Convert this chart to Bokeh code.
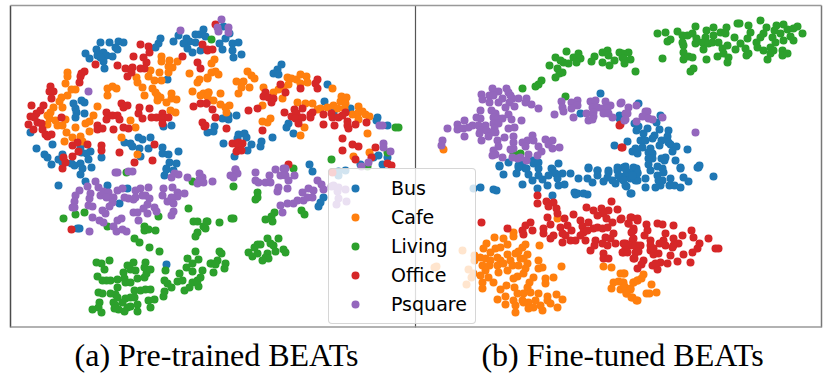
from bokeh.plotting import figure
from bokeh.models import Legend, LegendItem, Label, Range1d
from bokeh.embed import file_html
from bokeh.resources import INLINE

bus_a = [(100,42),(109,42),(118,41),(123,42),(115,47),(117,49),(96,49),(85,53),(89,58),(97,55),(103,52),(106,55),(103,61),(112,56),(104,68),(100,57),(160,38),(158,43),(155,47),(173,41),(178,35),(195,34),(199,34),(203,29),(205,36),(186,38),(189,41),(183,43),(187,48),(192,52),(200,50),(195,42),
(167,79),(81,100),(84,102),(73,103),(75,108),(76,112),(84,113),(75,117),(163,126),(171,125),(30,132),(36,148),(52,144),(44,154),(47,157),(51,164),(58,159),(62,154),(62,162),(71,163),(74,165),(80,163),(82,168),(81,152),(80,147),(86,153),(90,151),(88,159),(91,167),(101,157),(124,142),(130,143),(138,137),(142,139),(132,146),(139,148),(140,156),(150,137),(148,148),(162,147),(162,153),(168,154),(178,151),(169,162),(176,163),(166,168),
(223,26),(225,38),(229,33),(219,43),(222,49),(232,43),(238,42),(232,50),(233,57),(241,54),(281,64),(277,69),(273,73),(278,74),(327,84),(324,101),(350,108),(333,112),(377,117),(376,120),(387,125),(222,118),(228,119),(228,115),(236,115),(288,123),(286,127),(293,133),(272,137),(214,126),(213,131),(207,132),(223,143),(238,134),(244,133),(246,137),(237,138),(251,144),(247,150),(234,156),(261,141),(260,146),(309,164),(360,164),(378,155),(373,157),(387,157),(382,164),
(80,174),(85,181),(58,185),(107,185),(166,169),(173,170),(164,175),(127,188),(119,203),(79,228),(77,228),(166,264),(323,197),(320,202),(318,206),(312,171),(338,175),(345,170),(338,171)]
cafe_a = [(67,72),(67,76),(65,83),(75,89),(71,89),(67,95),(61,97),(59,101),(62,107),(53,107),(50,112),(47,115),(49,118),(55,120),(65,119),(57,125),(62,125),(47,124),(97,106),(93,115),(89,121),(85,123),(75,127),(66,132),(72,137),(80,136),(82,141),(64,141),(89,131),(107,88),(112,86),(116,88),(107,95),(130,120),(135,127),(121,137),(137,154),(136,77),(137,82),(150,70),(148,76),(142,87),(144,95),(159,72),(154,80),(161,80),(161,56),(161,61),(169,60),(177,61),(168,66),(172,67),(168,72),(152,88),(155,92),(157,95),(160,97),(157,100),(166,102),(171,93),(171,98),(176,99),(170,110),(175,112),(189,73),(192,91),(199,79),(197,82),(200,95),(207,77),(203,93),(208,92),
(214,59),(211,63),(215,71),(211,72),(218,74),(207,78),(247,71),(251,75),(254,78),(236,81),(243,81),(241,87),(249,87),(238,93),(220,93),(208,92),(207,96),(213,100),(220,104),(225,107),(229,105),(226,112),(263,87),(287,77),(291,78),(296,79),(300,74),(306,76),(307,82),(300,83),(288,84),(283,87),(278,89),(273,92),(282,98),(297,102),(305,103),(312,103),(262,105),(317,109),(320,108),(327,107),(333,105),(337,108),(340,101),(341,96),(346,97),(345,103),(344,108),(332,88),(352,114),(358,106),(358,112),(362,111),(365,114),(369,116),(358,119),(367,133),(262,121),(267,122),(270,118),(304,127),(300,135),(369,152),(353,156)]
living_a = [(211,39),(331,159),(367,166),(387,152),(395,127),(398,127),(293,168),(126,172),(192,181),(188,208),(63,218),(75,214),(84,212),(158,216),(107,226),(144,226),(144,230),(148,229),(155,230),(134,238),(139,242),(149,247),(159,251),(193,221),(197,221),(206,221),(203,226),(205,228),(197,232),(195,236),
(96,262),(101,263),(109,260),(104,269),(97,276),(102,280),(106,280),(110,280),(117,279),(127,265),(133,262),(130,269),(135,270),(123,272),(124,278),(125,282),(130,282),(137,278),(144,277),(146,273),(145,262),(144,267),(150,269),(117,287),(98,292),(102,293),(110,293),(115,294),(117,297),(134,290),(140,290),(145,289),(150,289),(134,297),(130,297),(125,298),(122,302),(113,302),(115,305),(127,307),(130,306),(137,304),(137,311),(124,311),(118,309),(114,308),(99,302),(98,307),(92,309),(101,312),(148,300),(154,299),(150,307),(163,296),(164,291),(165,270),(164,280),(167,283),(171,287),(179,273),(177,281),(182,280),(184,290),(189,287),(192,282),(198,286),(197,280),(200,277),(202,270),(192,271),(186,267),(192,263),(187,258),(198,259),(195,251),(210,263),
(233,186),(257,192),(257,197),(255,199),(301,210),(304,214),(274,212),(271,216),(265,219),(272,221),(231,218),(233,218),(219,222),(207,221),(219,251),(221,253),(267,238),(278,238),(270,243),(273,245),(257,244),(260,244),(254,247),(248,252),(252,256),(257,253),(275,251),(283,249),(285,252),(267,253),(265,257),(268,258),(262,260),(217,260),(211,263),(215,264),(225,263),(224,268),(213,272)]
office_a = [(31,105),(43,105),(40,110),(36,113),(30,116),(34,117),(37,122),(28,124),(41,123),(33,129),(42,129),(45,134),(51,134),(47,136),(50,86),(49,91),(53,91),(51,98),(61,117),(79,82),(80,76),(84,71),(81,73),(95,64),(117,65),(125,68),(132,67),(131,72),(127,76),(133,56),(140,44),(148,46),(149,52),(143,57),(146,62),(140,68),(144,68),(182,56),(121,103),(123,107),(127,105),(139,107),(138,113),(142,118),(149,108),(151,117),(156,117),(162,113),(162,118),(168,117),(162,123),(106,112),(112,115),(117,115),(106,119),(119,119),(97,125),(97,129),(102,128),(113,129),(123,127),(128,128),(72,145),(77,142),(87,144),(101,145),(101,150),(78,151),(119,152),(72,156),(154,144),(152,160),(134,162),(63,157),(65,162),(62,168),(197,62),(200,68),(193,106),(200,103),(206,103),(202,122),(204,126),(202,44),(207,50),
(215,24),(207,49),(212,49),(248,110),(257,108),(226,128),(215,117),(212,109),(206,103),(265,92),(263,96),(268,97),(273,98),(271,102),(280,84),(285,92),(300,88),(317,79),(315,83),(317,88),(284,112),(294,109),(302,108),(291,116),(296,113),(295,118),(302,117),(298,123),(310,114),(312,112),(310,117),(323,114),(331,113),(332,117),(338,117),(345,112),(342,115),(347,121),(347,125),(348,128),(355,124),(366,122),(323,124),(334,125),(262,130),(342,138),(342,150),(352,144),(358,146),(375,147),(371,157),(355,159),(387,163),(391,165),(232,143),(238,142),(242,143),(238,147),(236,151),(241,150),(288,164),(205,125),(71,229),(332,172)]
psquare_a = [(88,91),(180,30),(221,19),(217,27),(218,31),(228,27),(228,32),(379,125),(382,125),(383,143),(383,147),(390,151),(361,166),(368,162),(235,169),(275,169),(283,168),
(115,172),(117,172),(128,171),(132,171),(95,181),(87,186),(98,187),(79,190),(75,195),(74,201),(72,207),(74,207),(90,193),(89,198),(88,205),(92,206),(100,195),(103,191),(108,192),(106,197),(113,197),(112,202),(109,206),(117,190),(122,188),(124,197),(128,198),(135,190),(135,197),(140,188),(148,187),(145,195),(149,198),(142,195),(133,199),(102,210),(105,213),(92,217),(99,220),(103,222),(117,220),(121,218),(113,226),(116,231),(122,229),(126,231),(89,231),(137,212),(133,212),(143,208),(147,204),(147,213),(138,220),(154,207),(156,211),(163,188),(162,195),(172,187),(177,192),(177,196),(184,193),(171,197),(167,201),(173,203),(173,211),(171,215),(171,177),(178,174),(174,173),(187,177),(199,173),(202,177),(197,183),(203,182),(199,179),
(235,169),(230,175),(237,173),(233,177),(212,181),(255,172),(255,180),(258,182),(265,182),(270,182),(269,175),(285,168),(280,175),(285,175),(294,175),(288,180),(287,188),(278,187),(277,191),(302,192),(308,188),(313,190),(317,180),(321,184),(323,189),(307,197),(312,197),(303,200),(297,200),(293,203),(287,203),(280,205),(282,212),(331,186),(337,191),(338,187),(345,189),(338,198),(346,201),(336,204),(333,185)]

bus_b = [(600,93),(580,113),(619,115),(619,118),(614,145),(499,165),(508,162),(518,165),(522,162),(532,160),(533,163),(538,162),(558,163),(525,168),(538,168),(551,168),(588,167),(597,170),(617,167),(608,170),(624,167),
(638,103),(660,115),(634,123),(638,126),(647,128),(656,122),(659,129),(668,130),(667,136),(636,130),(643,133),(654,135),(652,138),(640,140),(645,140),(661,140),(668,142),(670,144),(676,146),(659,145),(642,147),(635,148),(650,148),(627,141),(632,151),(637,153),(648,152),(652,153),(672,151),(687,149),(652,158),(648,158),(665,157),(661,158),(675,160),(664,160),(648,164),(625,166),(633,167),(657,166),(680,167),(699,165),(697,167),(662,168),(621,117),(636,168),
(499,166),(503,174),(516,173),(518,167),(526,168),(528,174),(532,180),(522,184),(538,175),(542,179),(537,188),(552,169),(555,173),(548,175),(562,173),(570,173),(557,178),(547,185),(558,185),(564,184),(552,195),(574,192),(577,193),(583,193),(587,194),(578,178),(587,178),(592,182),(588,168),(597,170),(603,181),(608,172),(612,180),(617,170),(615,183),(620,178),(623,167),(625,175),(630,178),(633,170),(625,185),(637,180),(630,193),(480,187),(493,189),(496,190),(575,194),(597,175),(607,177),(618,175),(628,172),(637,172),(473,188),
(625,168),(623,180),(626,186),(635,180),(631,193),(637,173),(645,178),(645,187),(650,170),(657,175),(662,180),(660,185),(655,187),(663,172),(670,178),(669,185),(674,185),(680,187),(680,168),(683,177),(688,181),(698,167),(713,176),(658,180),(632,175)]
cafe_b = [(443,149),(557,218),(494,237),(503,238),(513,232),(513,236),(486,243),(483,248),(490,252),(495,248),(500,247),(507,244),(525,244),(522,247),(515,253),(518,251),(539,245),(507,254),(527,254),(480,257),(485,258),(490,260),(497,257),(500,260),(510,260),(520,258),(523,258),(527,263),(538,260),(542,267),(538,268),(561,266),(482,265),(489,265),(485,270),(497,265),(503,263),(512,265),(518,265),(525,268),(480,275),(498,272),(507,270),(488,277),(517,276),(513,278),(533,277),(523,273),(482,282),(482,288),(493,282),(506,285),(500,289),(514,287),(529,282),(527,287),(545,278),(553,277),(545,283),(517,293),(523,293),(530,292),(538,293),(547,296),(556,294),(497,299),(505,296),(513,300),(505,304),(522,300),(515,305),(528,302),(528,308),(535,300),(540,305),(542,310),(550,303),(547,300),(557,307),(562,299),(515,312),(523,302),(533,307),
(603,266),(611,267),(620,273),(624,273),(618,281),(623,282),(613,282),(611,288),(620,289),(633,282),(637,280),(630,288),(626,293),(632,297),(637,300),(623,273),(622,282),(624,286),(633,282),(637,280),(641,278),(643,274),(630,289),(626,293),(631,297),(636,300),(651,284),(646,293),(649,293),(656,292),
(462,250),(474,255),(474,260),(468,269),(473,273),(471,277),(466,284),(434,267),(436,266)]
living_b = [(566,51),(555,57),(549,65),(560,60),(563,62),(568,63),(573,57),(578,53),(580,58),(576,62),(557,68),(562,72),(559,73),(555,77),(541,80),(538,84),(535,86),(522,88),(565,96),(594,56),(591,61),(602,52),(607,50),(608,55),(602,62),(609,65),(614,60),(619,52),(622,57),(513,153),(520,153),
(657,33),(665,32),(667,41),(670,39),(677,31),(682,35),(682,42),(683,45),(687,35),(695,26),(692,33),(696,38),(695,43),(683,52),(683,59),(688,56),(692,57),(662,58),(706,59),(690,71),(693,68),(706,30),(705,37),(702,42),(703,49),(708,43),(713,27),(713,35),(712,42),(720,32),(726,27),(725,33),(718,42),(727,45),(722,48),(717,56),(723,53),(728,57),(727,62),(734,37),(737,23),(739,23),(748,25),(750,32),(747,38),(735,49),(740,43),(745,48),(748,53),(746,55),(760,20),(766,27),(763,33),(760,37),(756,42),(757,47),(776,25),(774,30),(783,24),(787,29),(780,33),(772,37),(775,42),(783,40),(793,40),(790,36),(797,26),(793,28),(802,33),(770,47),(763,50),(773,50),(770,53),(767,59),(782,50),(782,55),(787,53),(628,52),(622,53),(623,58),(630,59),(624,63),(635,71)]
office_b = [(619,125),(621,147),(620,124),(622,147),(537,195),(537,203),(546,201),(553,202),(548,206),(556,208),(557,213),(547,217),(573,214),(586,207),(593,210),(601,208),(611,201),(617,209),(608,210),(603,213),(597,215),(606,218),(564,218),(560,227),(550,224),(567,225),(481,222),(507,228),(530,222),(525,225),(522,230),(532,230),(523,234),(543,228),(543,233),(553,235),(550,238),(562,233),(565,235),(562,242),(571,230),(570,240),(575,240),(580,220),(582,226),(583,232),(580,235),(585,240),(588,222),(593,228),(597,227),(587,230),(595,240),(602,228),(607,227),(612,222),(620,219),(613,233),(605,237),(610,238),(602,243),(615,243),(607,245),(590,250),(594,245),(603,253),(603,258),(608,258),(623,243),(625,248),(630,217),(628,223),(637,220),(633,230),(632,240),(637,245),(623,252),(635,252),(633,258),
(621,218),(631,217),(637,218),(628,223),(633,228),(631,232),(633,238),(625,243),(630,245),(635,245),(640,245),(625,250),(622,252),(627,252),(638,251),(634,258),(643,260),(641,264),(637,268),(646,224),(657,223),(662,224),(673,225),(647,230),(644,235),(650,240),(650,245),(650,250),(653,254),(658,253),(653,248),(665,233),(663,240),(659,243),(665,245),(673,238),(672,247),(678,243),(682,235),(691,230),(693,237),(699,243),(697,248),(708,238),(715,248),(718,248),(692,252),(683,254),(670,255),(677,261),(690,262),(667,263),(660,262),(652,265),(657,269),(655,263),(673,245)]
psquare_b = [(492,88),(498,91),(506,88),(508,92),(481,94),(489,95),(493,95),(482,99),(489,102),(498,102),(502,98),(510,95),(512,98),(518,98),(526,98),(525,102),(531,104),(509,102),(514,106),(505,107),(538,108),(480,110),(491,110),(495,113),(476,117),(480,118),(493,117),(498,118),(502,118),(508,114),(511,119),(521,120),(464,120),(457,124),(447,128),(457,129),(463,128),(468,127),(472,125),(478,125),(485,125),(493,123),(498,123),(480,130),(486,130),(464,136),(479,133),(495,132),(494,128),(491,132),(488,136),(481,140),(508,128),(514,127),(504,137),(513,136),(497,140),(513,142),(513,148),(498,146),(510,149),(442,140),(441,145),
(532,135),(527,140),(522,142),(525,146),(533,140),(538,146),(545,139),(552,140),(548,144),(552,148),(559,147),(541,151),(537,155),(528,154),(526,160),(520,157),(517,158),(512,157),(493,150),(495,154),(492,155),(502,157),
(561,101),(562,107),(563,111),(554,114),(571,102),(577,100),(577,105),(571,108),(573,117),(590,101),(595,100),(605,101),(610,105),(620,103),(592,107),(597,107),(602,108),(607,108),(586,113),(593,112),(593,116),(592,119),(588,120),(603,113),(608,113),(612,117),(625,113),(624,120),(621,102),(636,105),(628,107),(627,113),(625,119),(645,111),(647,111),(642,116),(648,118),(652,119),(662,117),(636,121),(695,132)]

classes = ["Bus", "Cafe", "Living", "Office", "Psquare"]
colors = ["#1f77b4", "#ff7f0e", "#2ca02c", "#d62728", "#9467bd"]
points = [bus_a + bus_b, cafe_a + cafe_b, living_a + living_b, office_a + office_b, psquare_a + psquare_b]
captions = ["(a) Pre-trained BEATs", "(b) Fine-tuned BEATs"]

p = figure(width=830, height=373, output_backend="svg", toolbar_location=None,
           x_range=Range1d(0, 830), y_range=Range1d(373, 0),
           x_axis_location=None, y_axis_location=None, min_border=0)
p.grid.visible = False
p.outline_line_color = None
p.background_fill_color = "white"

p.segment([10], [5], [10], [327], line_color="#4a4a4a", line_width=1.5)
p.segment([415], [5], [415], [327], line_color="#555555", line_width=1.2)
p.segment([821], [5], [821], [327], line_color="#777777", line_width=1.5)
p.segment([10], [5], [821], [5], line_color="#999999", line_width=1.5)
p.segment([10], [326.5], [821], [326.5], line_color="#999999", line_width=1.5)

items = []
for name, col, pts in zip(classes, colors, points):
    r = p.scatter([q[0] for q in pts], [q[1] for q in pts], size=8, color=col, line_color=None)
    items.append(LegendItem(label=name, renderers=[r]))

legend = Legend(items=items, location=(328, 49), orientation="vertical",
                label_text_font="DejaVu Sans", label_text_font_size="19px", label_text_color="#000000",
                glyph_width=36, glyph_height=20, label_standoff=18, spacing=7, padding=8, margin=0,
                label_height=20, background_fill_color="white", background_fill_alpha=0.8,
                border_line_color="#cccccc", border_line_alpha=0.8, border_line_width=1)
if "border_radius" in Legend.properties():
    legend.border_radius = 4
p.add_layout(legend, "center")

for cx, text in zip([216, 622], captions):
    p.add_layout(Label(x=cx, y=354, text=text, text_font="Liberation Serif", text_font_size="32px",
                       text_align="center", text_baseline="alphabetic", text_color="#000000"))

open("out.html", "w").write(file_html(p, INLINE))
